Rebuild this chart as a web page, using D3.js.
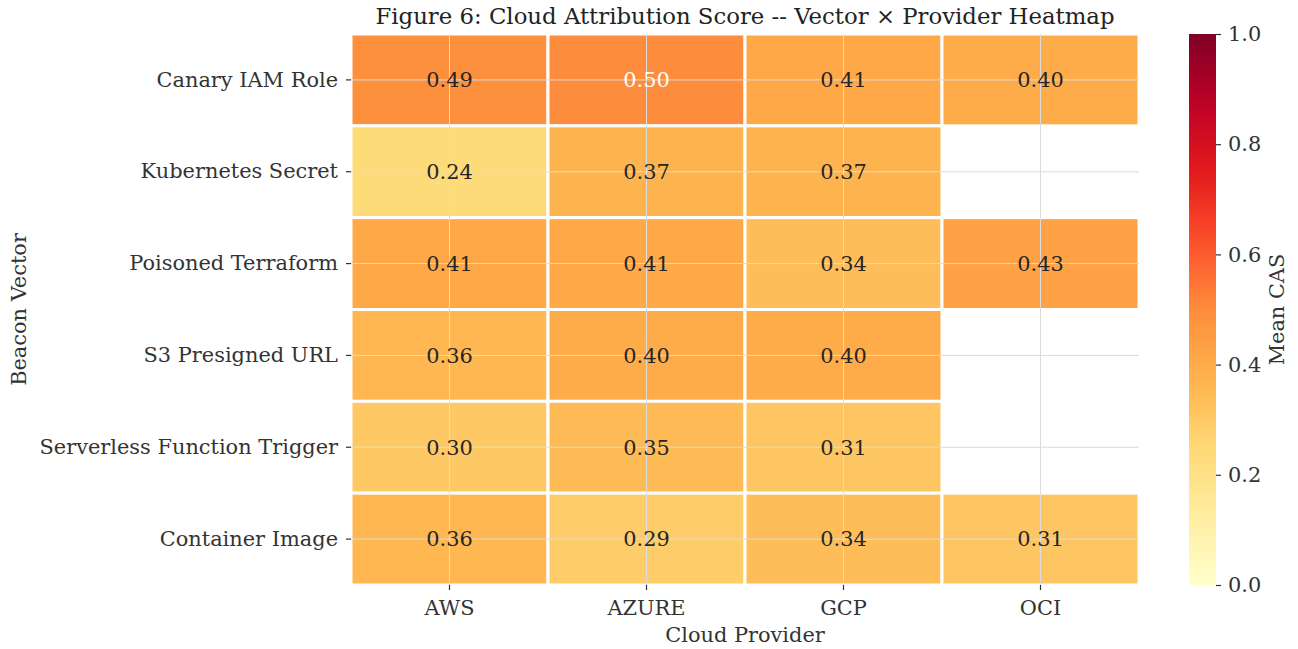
<!DOCTYPE html>
<html>
<head>
<meta charset="utf-8">
<script src="https://cdn.jsdelivr.net/npm/d3@7/dist/d3.min.js"></script>
<style>
  body { margin: 0; background: #fff; }
  text { font-family: "DejaVu Serif", serif; }
</style>
</head>
<body>
<div id="chart"></div>
<script>
'use strict';

var vectors = ['Canary IAM Role', 'Kubernetes Secret', 'Poisoned Terraform', 'S3 Presigned URL', 'Serverless Function Trigger', 'Container Image'];
var providers = ['AWS', 'AZURE', 'GCP', 'OCI'];
// rows follow vectors, columns follow providers; null = no data
var casAWS = [0.49, 0.24, 0.41, 0.36, 0.30, 0.36];
var casAZURE = [0.50, 0.37, 0.41, 0.40, 0.35, 0.29];
var casGCP = [0.41, 0.37, 0.34, 0.40, 0.31, 0.34];
var casOCI = [0.40, null, 0.43, null, null, 0.31];
var cbTicks = [0.0, 0.2, 0.4, 0.6, 0.8, 1.0];

var width = 1298;
var height = 649;
var plot = { left: 351, right: 1139, top: 34, bottom: 585 };
var cbar = { left: 1189, right: 1216 };
var textColor = '#333';
var gridColor = '#dcdcdc';
var fs = 20.9;

var columns = [casAWS, casAZURE, casGCP, casOCI];
var cells = [];
vectors.forEach(function (v, i) {
  providers.forEach(function (p, j) {
    cells.push({ vector: v, provider: p, value: columns[j][i] });
  });
});

var svg = d3.select('#chart').append('svg').attr('width', width).attr('height', height);

var x = d3.scaleBand().domain(providers).range([plot.left, plot.right]);
var y = d3.scaleBand().domain(vectors).range([plot.top, plot.bottom]);

// matplotlib YlOrRd is a linear ramp through the 9 brewer colours
var brewer = d3.schemeYlOrRd[9];
var color = d3.scaleLinear()
  .domain(d3.range(brewer.length).map(function (i) { return i / (brewer.length - 1); }))
  .range(brewer)
  .interpolate(d3.interpolateRgb)
  .clamp(true);

// same rule seaborn uses to pick the annotation colour
function luminance(c) {
  var rgb = d3.rgb(c);
  var lin = [rgb.r, rgb.g, rgb.b].map(function (v) {
    v = v / 255;
    return v <= 0.03928 ? v / 12.92 : Math.pow((v + 0.055) / 1.055, 2.4);
  });
  return 0.2126 * lin[0] + 0.7152 * lin[1] + 0.0722 * lin[2];
}

// cells
svg.append('g').selectAll('rect')
  .data(cells.filter(function (d) { return d.value !== null; }))
  .join('rect')
  .attr('x', function (d) { return x(d.provider); })
  .attr('y', function (d) { return y(d.vector); })
  .attr('width', x.bandwidth())
  .attr('height', y.bandwidth())
  .attr('fill', function (d) { return color(d.value); })
  .attr('stroke', '#fff')
  .attr('stroke-width', 3);

// grid lines on top (style sheet has axes.grid on)
var grid = svg.append('g').attr('stroke', gridColor).attr('stroke-width', 1);
grid.selectAll('line.v').data(providers).join('line')
  .attr('class', 'v')
  .attr('x1', function (d) { return x(d) + x.bandwidth() / 2; })
  .attr('x2', function (d) { return x(d) + x.bandwidth() / 2; })
  .attr('y1', plot.top).attr('y2', plot.bottom);
grid.selectAll('line.h').data(vectors).join('line')
  .attr('class', 'h')
  .attr('y1', function (d) { return y(d) + y.bandwidth() / 2; })
  .attr('y2', function (d) { return y(d) + y.bandwidth() / 2; })
  .attr('x1', plot.left).attr('x2', plot.right);

// annotations
svg.append('g').selectAll('text')
  .data(cells.filter(function (d) { return d.value !== null; }))
  .join('text')
  .attr('x', function (d) { return x(d.provider) + x.bandwidth() / 2; })
  .attr('y', function (d) { return y(d.vector) + y.bandwidth() / 2; })
  .attr('dy', '0.35em')
  .attr('text-anchor', 'middle')
  .attr('font-size', fs)
  .attr('fill', function (d) { return luminance(color(d.value)) > 0.408 ? '#262626' : '#fff'; })
  .text(function (d) { return d.value.toFixed(2); });

// axes
var xAxis = svg.append('g')
  .attr('transform', 'translate(0,' + plot.bottom + ')')
  .call(d3.axisBottom(x).tickSize(5).tickPadding(7));
var yAxis = svg.append('g')
  .attr('transform', 'translate(' + plot.left + ',0)')
  .call(d3.axisLeft(y).tickSize(5).tickPadding(8));
[xAxis, yAxis].forEach(function (a) {
  a.select('.domain').remove();
  a.selectAll('.tick line').attr('stroke', textColor).attr('stroke-width', 1.2);
  a.selectAll('.tick text').attr('fill', textColor).attr('font-size', fs).attr('font-family', '"DejaVu Serif", serif');
});
xAxis.selectAll('.tick text').attr('dy', '0.85em');

svg.append('text')
  .attr('x', (plot.left + plot.right) / 2).attr('y', 642)
  .attr('text-anchor', 'middle').attr('font-size', fs).attr('fill', textColor)
  .text('Cloud Provider');
svg.append('text')
  .attr('transform', 'translate(26,' + (plot.top + plot.bottom) / 2 + ') rotate(-90)')
  .attr('text-anchor', 'middle').attr('font-size', fs).attr('fill', textColor)
  .text('Beacon Vector');
svg.append('text')
  .attr('x', (plot.left + plot.right) / 2).attr('y', 24)
  .attr('text-anchor', 'middle').attr('font-size', 22.8).attr('fill', '#222')
  .text('Figure 6: Cloud Attribution Score -- Vector \u00d7 Provider Heatmap');

// colorbar
var cb = d3.scaleLinear().domain([0, 1]).range([plot.bottom, plot.top]);
var defs = svg.append('defs');
var grad = defs.append('linearGradient').attr('id', 'cbgrad')
  .attr('x1', 0).attr('y1', 1).attr('x2', 0).attr('y2', 0);
grad.selectAll('stop').data(d3.range(0, 1.0001, 0.05)).join('stop')
  .attr('offset', function (d) { return d; })
  .attr('stop-color', function (d) { return color(d); });
svg.append('rect')
  .attr('x', cbar.left).attr('y', plot.top)
  .attr('width', cbar.right - cbar.left).attr('height', plot.bottom - plot.top)
  .attr('fill', 'url(#cbgrad)');
var cbAxis = svg.append('g')
  .attr('transform', 'translate(' + cbar.right + ',0)')
  .call(d3.axisRight(cb).tickValues(cbTicks).tickFormat(d3.format('.1f')).tickSize(5).tickPadding(7));
cbAxis.select('.domain').remove();
cbAxis.selectAll('.tick line').attr('stroke', textColor).attr('stroke-width', 1.2);
cbAxis.selectAll('.tick text').attr('fill', textColor).attr('font-size', fs).attr('font-family', '"DejaVu Serif", serif');
svg.append('text')
  .attr('transform', 'translate(1284,' + (plot.top + plot.bottom) / 2 + ') rotate(-90)')
  .attr('text-anchor', 'middle').attr('font-size', fs).attr('fill', textColor)
  .text('Mean CAS');
</script>
</body>
</html>
